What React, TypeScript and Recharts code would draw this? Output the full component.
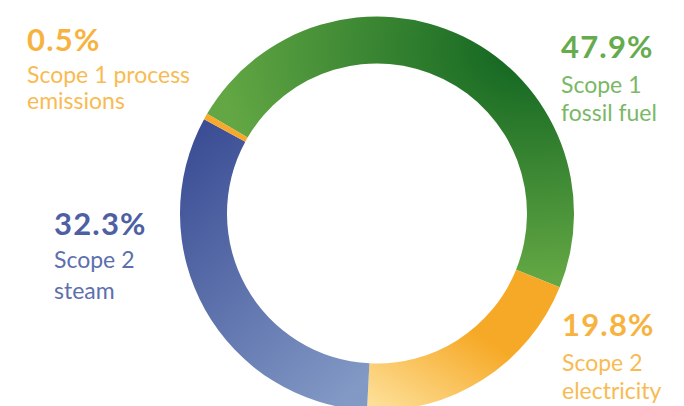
import React from 'react';
import { PieChart, Pie, Cell } from 'recharts';

const categories = ['Scope 1 fossil fuel', 'Scope 2 electricity', 'Scope 2 steam', 'Scope 1 process emissions'];
const shares = [47.9, 19.8, 32.3, 0.5];
const fills = ['url(#gGreen)', 'url(#gOrange)', 'url(#gBlue)', '#f6a92c'];

const data = categories.map((name, i) => ({ name, value: shares[i] }));

// callout text: [x, percent baseline, line baselines]
const callouts = [
    { pct: '0.5%', lines: ['Scope 1 process', 'emissions'], x: 27, y: [51, 83, 109], color: '#f7b340', light: '#f8bb52' },
    { pct: '47.9%', lines: ['Scope 1', 'fossil fuel'], x: 561, y: [58, 93, 121], color: '#66ab4e', light: '#7ab866' },
    { pct: '32.3%', lines: ['Scope 2', 'steam'], x: 54, y: [235, 268, 299], color: '#4e60a4', light: '#5d6fae' },
    { pct: '19.8%', lines: ['Scope 2', 'electricity'], x: 562, y: [336, 371, 399], color: '#f7b340', light: '#f8bb52' },
];

const App: React.FC = () => {
    return (
        <div style={{ position: 'fixed', left: 0, top: 0, width: 684, height: 406, background: '#fff' }}>
            <PieChart width={684} height={406}>
                <defs>
                    <radialGradient id="gGreen" cx="0.88" cy="0.12" r="0.85">
                        <stop offset="0%" stopColor="#0f6320" />
                        <stop offset="100%" stopColor="#63a744" />
                    </radialGradient>
                    <linearGradient id="gOrange" x1="0" y1="1" x2="0.5" y2="0.4">
                        <stop offset="0%" stopColor="#fee3a0" />
                        <stop offset="100%" stopColor="#f6a926" />
                    </linearGradient>
                    <linearGradient id="gBlue" x1="0.2" y1="0" x2="0.8" y2="1">
                        <stop offset="0%" stopColor="#3c4e95" />
                        <stop offset="100%" stopColor="#8299c5" />
                    </linearGradient>
                </defs>
                <Pie
                    data={data}
                    dataKey="value"
                    cx={372}
                    cy={208.5}
                    innerRadius={150}
                    outerRadius={197}
                    startAngle={149.6}
                    endAngle={-210.4}
                    stroke="none"
                    isAnimationActive={false}
                >
                    {data.map((d, i) => (
                        <Cell key={d.name} fill={fills[i]} />
                    ))}
                </Pie>
            </PieChart>
            <svg width={684} height={406} style={{ position: 'absolute', left: 0, top: 0 }}>
                {callouts.map((c) => (
                    <g key={c.pct} fontFamily="Lato, 'Noto Sans', sans-serif">
                        <text x={c.x} y={c.y[0]} fontSize={31} fontWeight={700} fill={c.color} letterSpacing={1.2}>{c.pct}</text>
                        {c.lines.map((l, j) => (
                            <text key={l} x={c.x} y={c.y[j + 1]} fontSize={23} fill={c.light}>{l}</text>
                        ))}
                    </g>
                ))}
            </svg>
        </div>
    );
};

export default App;
